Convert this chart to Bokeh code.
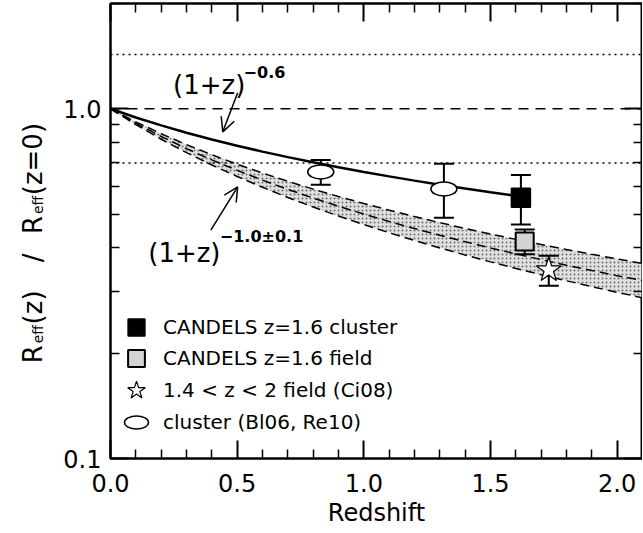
import math
from bokeh.plotting import figure
from bokeh.layouts import row
from bokeh.models import (Range1d, LogAxis, LinearAxis, Span, Label, Arrow, OpenHead,
                          Legend, LegendItem, FixedTicker, NumeralTickFormatter)
from bokeh.embed import file_html
from bokeh.resources import INLINE

# ---------------- data ----------------
z_grid = [0.0, 0.1, 0.2, 0.3, 0.4, 0.5, 0.6, 0.7, 0.8, 0.9, 1.0,
          1.1, 1.2, 1.3, 1.4, 1.5, 1.6, 1.7, 1.8, 1.9, 2.0, 2.1]
# (1+z)^-0.9 , (1+z)^-1.0 , (1+z)^-1.1
r_slope_090 = [1.0, 0.9178, 0.8487, 0.7897, 0.7388, 0.6943, 0.6551, 0.6203, 0.5892, 0.5612, 0.5359,
               0.5129, 0.4918, 0.4725, 0.4548, 0.4384, 0.4232, 0.4090, 0.3959, 0.3836, 0.3720, 0.3612]
r_slope_100 = [1.0, 0.9091, 0.8333, 0.7692, 0.7143, 0.6667, 0.6250, 0.5882, 0.5556, 0.5263, 0.5000,
               0.4762, 0.4545, 0.4348, 0.4167, 0.4000, 0.3846, 0.3704, 0.3571, 0.3448, 0.3333, 0.3226]
r_slope_110 = [1.0, 0.9005, 0.8183, 0.7493, 0.6907, 0.6402, 0.5963, 0.5578, 0.5238, 0.4936, 0.4665,
               0.4421, 0.4201, 0.4000, 0.3817, 0.3650, 0.3496, 0.3354, 0.3222, 0.3100, 0.2987, 0.2881]
# (1+z)^-0.6 out to the cluster redshift
z_fit = [0.0, 0.1, 0.2, 0.3, 0.4, 0.5, 0.6, 0.7, 0.8, 0.9, 1.0,
         1.1, 1.2, 1.3, 1.4, 1.5, 1.6, 1.62]
r_fit_060 = [1.0, 0.9444, 0.8964, 0.8543, 0.8172, 0.7841, 0.7543, 0.7273, 0.7028, 0.6804, 0.6598,
             0.6408, 0.6231, 0.6067, 0.5914, 0.5771, 0.5637, 0.5611]

cl_z, cl_r, cl_lo, cl_hi = [1.62], [0.557], [0.467], [0.647]        # CANDELS cluster
fd_z, fd_r, fd_lo, fd_hi = [1.635], [0.417], [0.384], [0.452]       # CANDELS field
ci_z, ci_r, ci_lo, ci_hi = [1.73], [0.346], [0.312], [0.380]        # Ci08
lit_z = [0.83, 1.316]                                               # Bl06, Re10
lit_r = [0.660, 0.590]
lit_lo = [0.606, 0.488]
lit_hi = [0.714, 0.696]

dotted_levels = [1.43, 0.70]
dashed_levels = [1.0]

x_major = [0.0, 0.5, 1.0, 1.5, 2.0]
x_minor = [0.1, 0.2, 0.3, 0.4, 0.6, 0.7, 0.8, 0.9, 1.1, 1.2, 1.3, 1.4, 1.6, 1.7, 1.8, 1.9, 2.1]
y_major = [0.1, 1.0]
y_minor = [0.2, 0.3, 0.4, 0.5, 0.6, 0.7, 0.8, 0.9, 2.0]

legend_labels = ["CANDELS z=1.6 cluster", "CANDELS z=1.6 field",
                 "1.4 < z < 2 field (Ci08)", "cluster (Bl06, Re10)"]

FONT = "DejaVu Sans"
TITLE_W = 60

# page-pixel helpers for annotation placement
def px_x(px):
    return (px - 107.0) / 255.0

def px_y(py):
    return 10 ** ((109.0 - py) / 349.0)

# ---------------- y-axis title panel ----------------
# its frame is aligned with the main frame (page y 0..458), so data units == page pixels
tfig = figure(width=TITLE_W, height=532, x_range=Range1d(0, TITLE_W), y_range=Range1d(458, 0),
              output_backend="svg", toolbar_location=None, min_border=0,
              x_axis_location=None, y_axis_location=None)
tfig.outline_line_color = None
tfig.grid.visible = False
tfig.background_fill_color = "white"
tfig.border_fill_color = "white"
# (text, size, baseline x, start y, align) -- rotated title with subscripts
title_pieces = [("R", 26, 32, 362, "left"), ("eff", 14, 37, 342, "left"),
                ("(z)", 26, 32, 323, "left"), ("/", 26, 32, 256, "center"),
                ("R", 26, 32, 232, "left"), ("eff", 14, 37, 212, "left"),
                ("(z=0)", 26, 32, 193, "left")]
for txt, fs, bx, by, al in title_pieces:
    tfig.add_layout(Label(x=bx, y=by, text=txt, angle=math.pi / 2, text_font=FONT,
                          text_color="black", text_font_size=f"{fs}px",
                          text_baseline="alphabetic", text_align=al))

# ---------------- main figure ----------------
p = figure(width=642 - TITLE_W, height=532, x_range=Range1d(0, 2.1), y_range=Range1d(0.1, 2.0),
           y_axis_type="log", output_backend="svg", toolbar_location=None,
           min_border_left=106 - TITLE_W, min_border_right=0, min_border_top=3,
           min_border_bottom=74)
p.grid.visible = False
p.outline_line_color = "black"
p.outline_line_width = 2
p.background_fill_color = "white"
p.border_fill_color = "white"

def style_axis(ax, show_labels):
    ax.axis_line_width = 2
    ax.major_tick_line_width = 2
    ax.minor_tick_line_width = 1.5
    ax.major_tick_in = 18
    ax.major_tick_out = 0
    ax.minor_tick_in = 9
    ax.minor_tick_out = 0
    ax.major_label_text_font = FONT
    ax.major_label_text_color = "black"
    if show_labels:
        ax.major_label_text_font_size = "24px"
    else:
        ax.major_label_text_font_size = "1px"
        ax.major_label_text_alpha = 0
        ax.major_label_standoff = 0

p.xaxis.ticker = FixedTicker(ticks=x_major, minor_ticks=x_minor)
p.xaxis.formatter = NumeralTickFormatter(format="0.0")
style_axis(p.xaxis[0], True)
p.xaxis.major_label_standoff = 15
p.xaxis.axis_label = "Redshift"
p.xaxis.axis_label_text_font = FONT
p.xaxis.axis_label_text_font_size = "24px"
p.xaxis.axis_label_text_font_style = "normal"
p.xaxis.axis_label_text_color = "black"
p.xaxis.axis_label_standoff = 4

p.yaxis.ticker = FixedTicker(ticks=y_major, minor_ticks=y_minor)
p.yaxis.formatter = NumeralTickFormatter(format="0.0")
style_axis(p.yaxis[0], True)
p.yaxis.major_label_standoff = 9

top_ax = LinearAxis(ticker=FixedTicker(ticks=x_major, minor_ticks=x_minor))
style_axis(top_ax, False)
p.add_layout(top_ax, "above")
right_ax = LogAxis(ticker=FixedTicker(ticks=y_major, minor_ticks=y_minor))
style_axis(right_ax, False)
p.add_layout(right_ax, "right")

# reference levels
for lv in dotted_levels:
    p.add_layout(Span(location=lv, dimension="width", line_color="black",
                      line_width=1.5, line_dash="2 4"))
for lv in dashed_levels:
    p.add_layout(Span(location=lv, dimension="width", line_color="black",
                      line_width=1.5, line_dash="10 7"))

# stippled band
p.varea(x=z_grid, y1=r_slope_110, y2=r_slope_090, fill_color="#e0e0e0",
        hatch_pattern="dot", hatch_color="#6e6e6e", hatch_scale=4, hatch_weight=1)
for ys in (r_slope_090, r_slope_100, r_slope_110):
    p.line(z_grid, ys, line_color="black", line_width=1.5, line_dash="9 5")

# (1+z)^-0.6
p.line(z_fit, r_fit_060, line_color="black", line_width=2.5)

# error bars
def errbar(zs, lo, hi, cap=20):
    p.segment(x0=zs, y0=lo, x1=zs, y1=hi, line_color="black", line_width=2)
    p.scatter(zs, lo, marker="dash", size=cap, line_color="black", line_width=2)
    p.scatter(zs, hi, marker="dash", size=cap, line_color="black", line_width=2)

errbar(lit_z, lit_lo, lit_hi)
errbar(cl_z, cl_lo, cl_hi)
errbar(fd_z, fd_lo, fd_hi)
errbar(ci_z, ci_lo, ci_hi)

r_lit = p.ellipse(lit_z, lit_r, width=26, height=14, width_units="screen", height_units="screen",
                  fill_color="white", line_color="black", line_width=1.5)
r_cl = p.scatter(cl_z, cl_r, marker="square", size=19, fill_color="black",
                 line_color="black", line_width=1.5)
r_fd = p.scatter(fd_z, fd_r, marker="square", size=18, fill_color="#d3d3d3",
                 line_color="black", line_width=2)
r_ci = p.scatter(ci_z, ci_r, marker="star", size=26, fill_color="white",
                 line_color="black", line_width=1.2)

# one single-row legend per entry so each swatch can have its own size
legend_rows = [(legend_labels[0], r_cl, 42, 327),
               (legend_labels[1], r_fd, 42, 358),
               (legend_labels[2], r_ci, 46, 390),
               (legend_labels[3], r_lit, 30, 422)]
for lab, rend, gsz, cy in legend_rows:
    lg = Legend(items=[LegendItem(label=lab, renderers=[rend])],
                location=(26 - gsz // 2, 458 - cy - gsz // 2), orientation="vertical",
                glyph_width=gsz, glyph_height=gsz, label_height=20,
                label_standoff=27 - gsz // 2, padding=0, margin=0,
                border_line_color=None, background_fill_alpha=0,
                label_text_font=FONT, label_text_font_size="20px", label_text_color="black")
    p.add_layout(lg, "center")

# annotations
p.add_layout(Label(x=px_x(170), y=px_y(85), text="(1+z)", text_font=FONT, text_color="black",
                   text_font_size="26px", text_baseline="alphabetic", text_align="left"))
p.add_layout(Label(x=px_x(241), y=px_y(72), text="\u22120.6", text_font=FONT, text_color="black",
                   text_font_size="16px", text_font_style="bold",
                   text_baseline="alphabetic", text_align="left"))
p.add_layout(Label(x=px_x(145), y=px_y(253), text="(1+z)", text_font=FONT, text_color="black",
                   text_font_size="26px", text_baseline="alphabetic", text_align="left"))
p.add_layout(Label(x=px_x(217), y=px_y(236), text="\u22121.0\u00b10.1", text_font=FONT,
                   text_color="black", text_font_size="16px", text_font_style="bold",
                   text_baseline="alphabetic", text_align="left"))
p.add_layout(Arrow(end=OpenHead(size=14, line_width=1.5), x_start=px_x(235), y_start=px_y(93),
                   x_end=px_x(220), y_end=px_y(132), line_width=1.5))
p.add_layout(Arrow(end=OpenHead(size=14, line_width=1.5), x_start=px_x(208), y_start=px_y(230),
                   x_end=px_x(235), y_end=px_y(187), line_width=1.5))

layout = row(tfig, p, spacing=0)
open("out.html", "w").write(file_html(layout, INLINE))
